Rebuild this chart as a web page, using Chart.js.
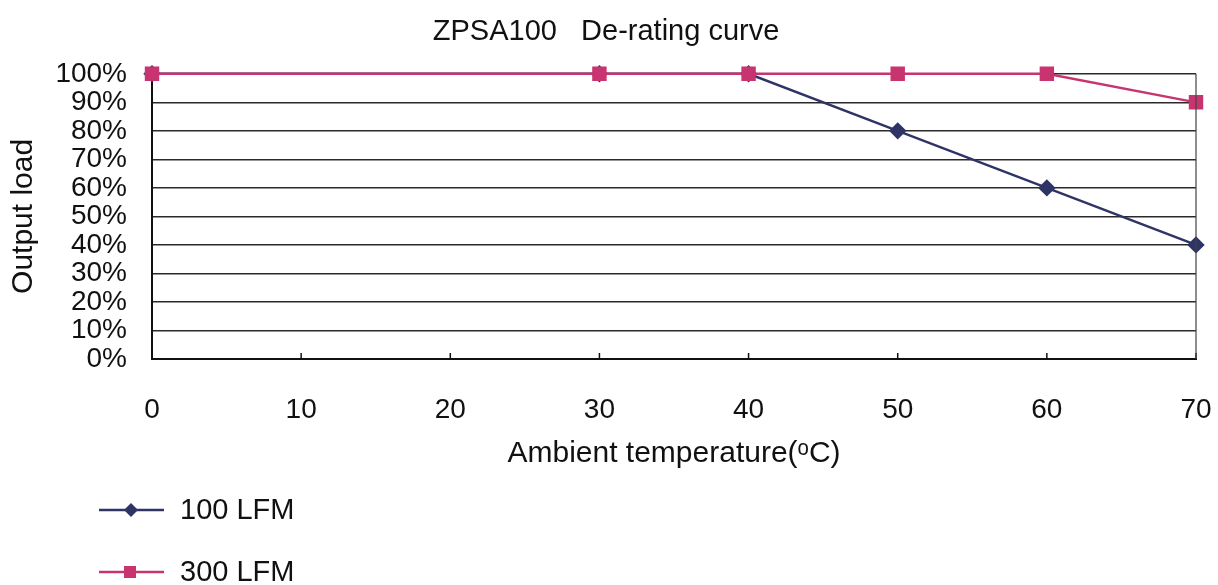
<!DOCTYPE html>
<html>
<head>
<meta charset="utf-8">
<script src="https://cdn.jsdelivr.net/npm/chart.js@4/dist/chart.umd.min.js"></script>
<style>
  html, body { margin: 0; padding: 0; background: #fff; }
  #box { width: 1218px; height: 585px; }
</style>
</head>
<body>
<div id="box"><canvas id="derating"></canvas></div>
<script>
// datos
const temperatures = [0, 30, 40, 50, 60, 70];
const load100 = [100, 100, 100, 80, 60, 40];
const load300 = [100, 100, 100, 100, 100, 90];
const seriesNames = ['100 LFM', '300 LFM'];
const xTicks = [0, 10, 20, 30, 40, 50, 60, 70];
const yTicks = [0, 10, 20, 30, 40, 50, 60, 70, 80, 90, 100];

const fontName = '"Liberation Sans", Arial, sans-serif';
const navy = '#2e3466';
const pink = '#c8346f';

// marcas del eje x hacia dentro del area
const innerTicks = {
  id: 'innerTicks',
  afterDatasetsDraw(chart) {
    const ctx = chart.ctx;
    const x = chart.scales.x;
    const bottom = chart.chartArea.bottom;
    ctx.save();
    ctx.strokeStyle = '#111';
    ctx.lineWidth = 1.5;
    xTicks.forEach(function(t) {
      const px = x.getPixelForValue(t);
      ctx.beginPath();
      ctx.moveTo(px, bottom);
      ctx.lineTo(px, bottom - 6);
      ctx.stroke();
    });
    // borde derecho
    ctx.lineWidth = 1.2;
    ctx.strokeStyle = '#444';
    ctx.beginPath();
    ctx.moveTo(chart.chartArea.right, chart.chartArea.top);
    ctx.lineTo(chart.chartArea.right, bottom);
    ctx.stroke();
    ctx.restore();
  }
};

// leyenda vertical abajo a la izquierda
const stackedLegend = {
  id: 'stackedLegend',
  afterDraw(chart) {
    const ctx = chart.ctx;
    const rows = [510, 572];
    ctx.save();
    chart.data.datasets.forEach(function(ds, i) {
      const y = rows[i];
      ctx.strokeStyle = ds.borderColor;
      ctx.lineWidth = 2.4;
      ctx.beginPath();
      ctx.moveTo(99, y);
      ctx.lineTo(164, y);
      ctx.stroke();
      ctx.fillStyle = ds.pointBackgroundColor;
      if (ds.pointStyle === 'rectRot') {
        ctx.beginPath();
        ctx.moveTo(131, y - 7);
        ctx.lineTo(138, y);
        ctx.lineTo(131, y + 7);
        ctx.lineTo(124, y);
        ctx.closePath();
        ctx.fill();
      } else {
        ctx.fillRect(124, y - 6, 12, 12);
      }
      ctx.fillStyle = '#111';
      ctx.font = '29px ' + fontName;
      ctx.textBaseline = 'middle';
      ctx.fillText(ds.label, 180, y + 1);
    });
    ctx.restore();
  }
};

const ctx = document.getElementById('derating').getContext('2d');
const chart = new Chart(ctx, {
  type: 'line',
  data: {
    datasets: [
      {
        label: seriesNames[0],
        data: temperatures.map(function(t, i) { return { x: t, y: load100[i] }; }),
        borderColor: navy,
        backgroundColor: navy,
        pointBackgroundColor: navy,
        pointBorderColor: navy,
        pointStyle: 'rectRot',
        pointRadius: 7,
        borderWidth: 2.4,
        order: 1,
        clip: false
      },
      {
        label: seriesNames[1],
        data: temperatures.map(function(t, i) { return { x: t, y: load300[i] }; }),
        borderColor: pink,
        backgroundColor: pink,
        pointBackgroundColor: pink,
        pointBorderColor: pink,
        pointStyle: 'rect',
        pointRadius: 8.5,
        borderWidth: 2.4,
        order: 0,
        clip: false
      }
    ]
  },
  options: {
    responsive: true,
    maintainAspectRatio: false,
    animation: false,
    layout: { padding: { left: 0, right: 22, top: 0, bottom: 105 } },
    plugins: {
      legend: { display: false },
      tooltip: { enabled: false },
      title: {
        display: true,
        text: '  ZPSA100   De-rating curve',
        color: '#111',
        font: { family: fontName, size: 29, weight: 'normal' },
        padding: { top: 15, bottom: 24 }
      }
    },
    scales: {
      x: {
        type: 'linear',
        min: 0,
        max: 70,
        afterBuildTicks: function(scale) {
          scale.ticks = xTicks.map(function(v) { return { value: v }; });
        },
        afterFit: function(scale) {
          scale.height = 121;
          scale.paddingRight = 0;
          scale.paddingLeft = 0;
        },
        grid: { display: false, drawTicks: false },
        border: { display: true, color: '#111', width: 2 },
        ticks: {
          color: '#111',
          padding: 34,
          font: { family: fontName, size: 28 }
        },
        title: {
          display: true,
          text: 'Ambient temperature(ᵒC)',
          color: '#111',
          font: { family: fontName, size: 30 },
          padding: { top: 0, bottom: 8 }
        }
      },
      y: {
        min: 0,
        max: 100,
        afterBuildTicks: function(scale) {
          scale.ticks = yTicks.map(function(v) { return { value: v }; });
        },
        afterFit: function(scale) { scale.width = 152; },
        grid: { color: '#2a2a2a', lineWidth: 1.6, drawTicks: false },
        border: { display: true, color: '#111', width: 2 },
        ticks: {
          color: '#111',
          padding: 25,
          autoSkip: false,
          font: { family: fontName, size: 28, lineHeight: 1 },
          callback: function(v) { return v + '%'; }
        },
        title: {
          display: true,
          text: 'Output load',
          color: '#111',
          font: { family: fontName, size: 30 },
          padding: { top: 6, bottom: 0 }
        }
      }
    }
  },
  plugins: [innerTicks, stackedLegend]
});
</script>
</body>
</html>
